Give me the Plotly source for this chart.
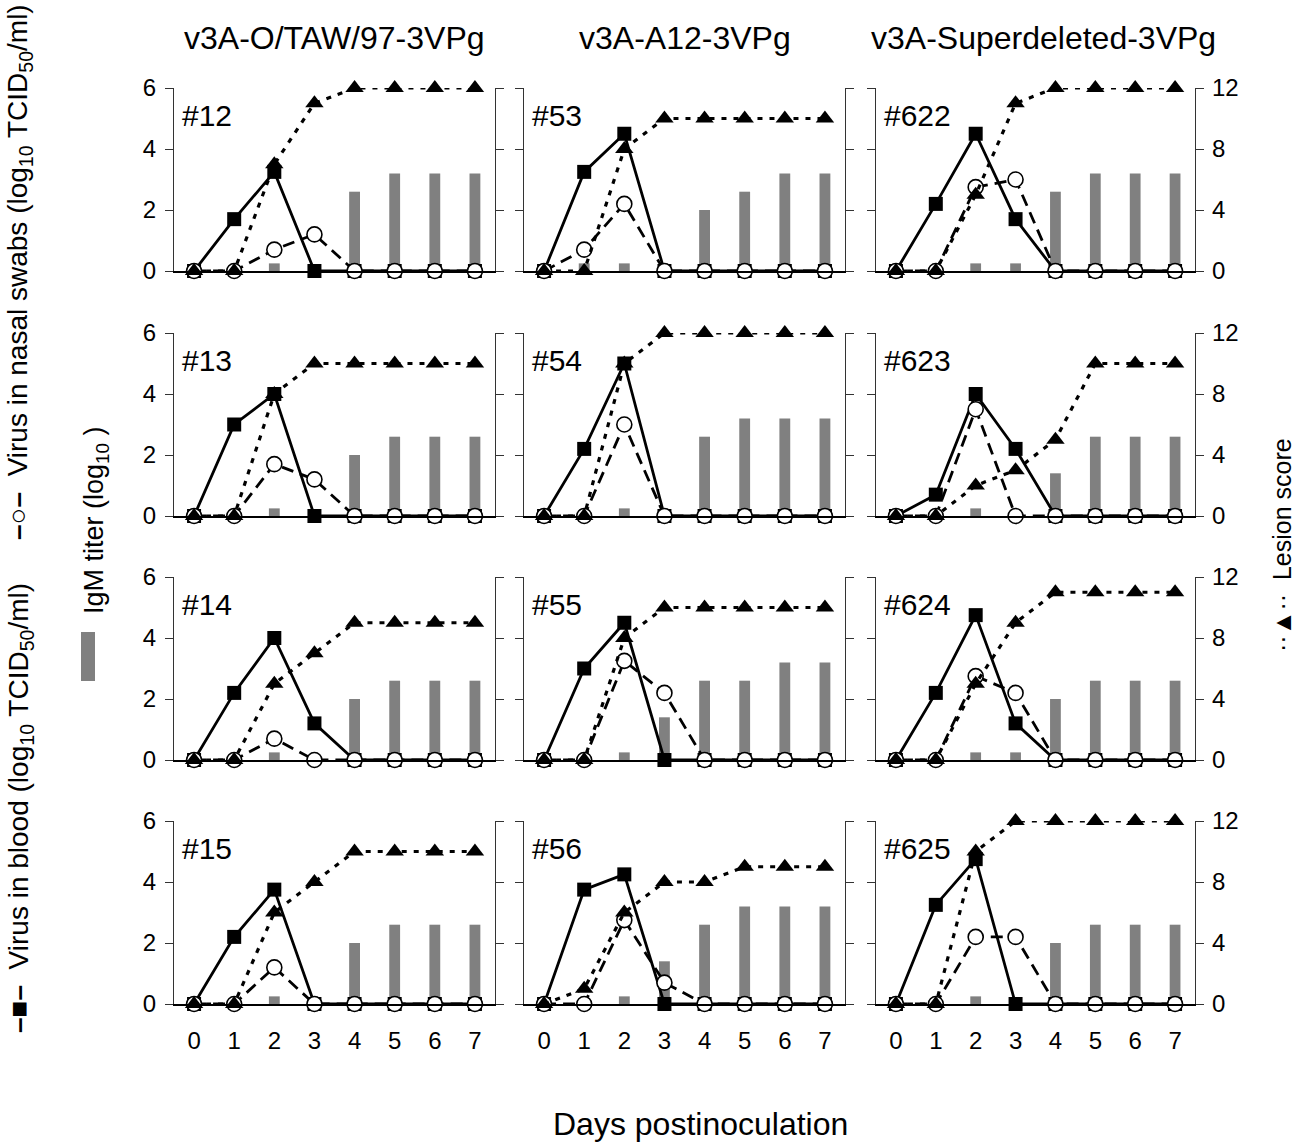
import plotly.graph_objects as go

W, H = 1302, 1144

days = [0, 1, 2, 3, 4, 5, 6, 7]
groups = ["v3A-O/TAW/97-3VPg", "v3A-A12-3VPg", "v3A-Superdeleted-3VPg"]
animals = ["#12", "#53", "#622",
           "#13", "#54", "#623",
           "#14", "#55", "#624",
           "#15", "#56", "#625"]

# Virus in blood (log10 TCID50/ml)
blood = {
    "#12":  [0, 1.7, 3.25, 0, 0, 0, 0, 0],
    "#53":  [0, 3.25, 4.5, 0, 0, 0, 0, 0],
    "#622": [0, 2.2, 4.5, 1.7, 0, 0, 0, 0],
    "#13":  [0, 3.0, 4.0, 0, 0, 0, 0, 0],
    "#54":  [0, 2.2, 5.0, 0, 0, 0, 0, 0],
    "#623": [0, 0.7, 4.0, 2.2, 0, 0, 0, 0],
    "#14":  [0, 2.2, 4.0, 1.2, 0, 0, 0, 0],
    "#55":  [0, 3.0, 4.5, 0, 0, 0, 0, 0],
    "#624": [0, 2.2, 4.75, 1.2, 0, 0, 0, 0],
    "#15":  [0, 2.2, 3.75, 0, 0, 0, 0, 0],
    "#56":  [0, 3.75, 4.25, 0, 0, 0, 0, 0],
    "#625": [0, 3.25, 4.75, 0, 0, 0, 0, 0],
}

# Virus in nasal swabs (log10 TCID50/ml)
nasal = {
    "#12":  [0, 0, 0.7, 1.2, 0, 0, 0, 0],
    "#53":  [0, 0.7, 2.2, 0, 0, 0, 0, 0],
    "#622": [0, 0, 2.75, 3.0, 0, 0, 0, 0],
    "#13":  [0, 0, 1.7, 1.2, 0, 0, 0, 0],
    "#54":  [0, 0, 3.0, 0, 0, 0, 0, 0],
    "#623": [0, 0, 3.5, 0, 0, 0, 0, 0],
    "#14":  [0, 0, 0.7, 0, 0, 0, 0, 0],
    "#55":  [0, 0, 3.25, 2.2, 0, 0, 0, 0],
    "#624": [0, 0, 2.75, 2.2, 0, 0, 0, 0],
    "#15":  [0, 0, 1.2, 0, 0, 0, 0, 0],
    "#56":  [0, 0, 2.75, 0.7, 0, 0, 0, 0],
    "#625": [0, 0, 2.2, 2.2, 0, 0, 0, 0],
}

# Lesion score (right axis, 0-12)
lesion = {
    "#12":  [0, 0, 7, 11, 12, 12, 12, 12],
    "#53":  [0, 0, 8, 10, 10, 10, 10, 10],
    "#622": [0, 0, 5, 11, 12, 12, 12, 12],
    "#13":  [0, 0, 8, 10, 10, 10, 10, 10],
    "#54":  [0, 0, 10, 12, 12, 12, 12, 12],
    "#623": [0, 0, 2, 3, 5, 10, 10, 10],
    "#14":  [0, 0, 5, 7, 9, 9, 9, 9],
    "#55":  [0, 0, 8, 10, 10, 10, 10, 10],
    "#624": [0, 0, 5, 9, 11, 11, 11, 11],
    "#15":  [0, 0, 6, 8, 10, 10, 10, 10],
    "#56":  [0, 1, 6, 8, 8, 9, 9, 9],
    "#625": [0, 0, 10, 12, 12, 12, 12, 12],
}

# IgM titer (log10)
igm = {
    "#12":  [0, 0, 0.25, 0, 2.6, 3.2, 3.2, 3.2],
    "#53":  [0, 0.25, 0.25, 0, 2.0, 2.6, 3.2, 3.2],
    "#622": [0, 0, 0.25, 0.25, 2.6, 3.2, 3.2, 3.2],
    "#13":  [0, 0, 0.25, 0, 2.0, 2.6, 2.6, 2.6],
    "#54":  [0, 0, 0.25, 0, 2.6, 3.2, 3.2, 3.2],
    "#623": [0, 0, 0.25, 0, 1.4, 2.6, 2.6, 2.6],
    "#14":  [0, 0, 0.25, 0, 2.0, 2.6, 2.6, 2.6],
    "#55":  [0, 0, 0.25, 1.4, 2.6, 2.6, 3.2, 3.2],
    "#624": [0, 0, 0.25, 0.25, 2.0, 2.6, 2.6, 2.6],
    "#15":  [0, 0, 0.25, 0, 2.0, 2.6, 2.6, 2.6],
    "#56":  [0, 0, 0.25, 1.4, 2.6, 3.2, 3.2, 3.2],
    "#625": [0, 0, 0.25, 0, 2.0, 2.6, 2.6, 2.6],
}

left_ticks = [0, 2, 4, 6]
right_ticks = [0, 4, 8, 12]

FONT = "Arial, Liberation Sans, sans-serif"
TICK_SIZE = 24

# panel placement in pixels
col_px = [(174, 495), (524, 845), (876, 1195)]
row_px = [(88, 271), (333, 516), (577, 760), (821, 1004)]


def xd(a, b):
    return [a / W, b / W]


def yd(top, bot):
    return [1 - bot / H, 1 - top / H]


fig = go.Figure()
layout = dict(
    template="none",
    width=W, height=H,
    margin=dict(l=0, r=0, t=0, b=0, pad=0, autoexpand=False),
    paper_bgcolor="white", plot_bgcolor="white",
    showlegend=False,
    font=dict(family=FONT, color="black"),
    annotations=[], shapes=[],
)

for k, name in enumerate(animals):
    r, c = divmod(k, 3)
    xn = f"x{k + 1}"
    ys = f"y{2 * k + 2}"
    xkey = "xaxis" if k == 0 else f"xaxis{k + 1}"
    ypkey = "yaxis" if k == 0 else f"yaxis{2 * k + 1}"
    yskey = f"yaxis{2 * k + 2}"
    yp_ref = "y" if k == 0 else f"y{2 * k + 1}"
    x_ref = "x" if k == 0 else xn

    layout[xkey] = dict(
        domain=xd(*col_px[c]), range=[-0.5, 7.5], anchor=yp_ref,
        tickvals=days, showticklabels=(r == 3), ticks="",
        ticklabelstandoff=14,
        showline=True, linecolor="black", linewidth=2,
        showgrid=False, zeroline=False, automargin=False,
        tickfont=dict(size=TICK_SIZE, family=FONT, color="black"),
        fixedrange=True,
    )
    layout[ypkey] = dict(
        domain=yd(*row_px[r]), range=[0, 6], anchor=x_ref,
        tickvals=left_ticks, showticklabels=(c == 0),
        ticks="outside", ticklen=8, tickwidth=1.2, tickcolor="#333",
        ticklabelstandoff=4,
        showline=True, linecolor="#333", linewidth=1.2,
        showgrid=False, zeroline=False, automargin=False,
        tickfont=dict(size=TICK_SIZE, family=FONT, color="black"),
        fixedrange=True,
    )
    layout[yskey] = dict(
        range=[0, 12], overlaying=yp_ref, side="right", anchor=x_ref,
        tickvals=right_ticks, showticklabels=(c == 2),
        ticks="outside", ticklen=8, tickwidth=1.2, tickcolor="#333",
        ticklabelstandoff=3,
        showline=True, linecolor="#333", linewidth=1.2,
        showgrid=False, zeroline=False, automargin=False,
        tickfont=dict(size=TICK_SIZE, family=FONT, color="black"),
        fixedrange=True,
    )

    fig.add_trace(go.Bar(
        x=days, y=igm[name], width=0.27,
        marker=dict(color="#808080", line=dict(width=0)),
        xaxis=x_ref, yaxis=yp_ref, hoverinfo="skip",
    ))
    fig.add_trace(go.Scatter(
        x=days, y=blood[name], mode="lines+markers",
        line=dict(color="black", width=2.8),
        marker=dict(symbol="square", size=14, color="black"),
        xaxis=x_ref, yaxis=yp_ref, cliponaxis=False,
    ))
    fig.add_trace(go.Scatter(
        x=days, y=nasal[name], mode="lines+markers",
        line=dict(color="black", width=2.8, dash="12px,7px"),
        marker=dict(symbol="circle", size=15, color="white",
                    line=dict(color="black", width=1.6)),
        xaxis=x_ref, yaxis=yp_ref, cliponaxis=False,
    ))
    fig.add_trace(go.Scatter(
        x=days, y=lesion[name], mode="lines+markers",
        line=dict(color="black", width=3.2, dash="5px,7px"),
        marker=dict(symbol="triangle-up", size=16, color="black"),
        xaxis=x_ref, yaxis=ys, cliponaxis=False,
    ))

    # panel label
    layout["annotations"].append(dict(
        text=name, x=(col_px[c][0] + 6) / W, y=1 - (row_px[r][0] + 27) / H,
        xref="paper", yref="paper", showarrow=False,
        xanchor="left", yanchor="middle",
        font=dict(size=30, family=FONT, color="black"),
    ))


def ann(text, xp, yp, size, angle=0, xanchor="center"):
    layout["annotations"].append(dict(
        text=text, x=xp / W, y=1 - yp / H, xref="paper", yref="paper",
        showarrow=False, textangle=angle, xanchor=xanchor, yanchor="middle",
        font=dict(size=size, family=FONT, color="black"),
    ))


col_titles_x = [335, 685, 1043]
for g, xp in zip(groups, col_titles_x):
    ann(g, xp, 38, 32)

ann("Days postinoculation", 700, 1124, 32)
ann("<b>–</b>○<b>–</b>  Virus in nasal swabs (log<sub>10</sub> TCID<sub>50</sub>/ml)",
    20, 272, 28, angle=-90)
ann("<b>–■–</b>  Virus in blood (log<sub>10</sub> TCID<sub>50</sub>/ml)",
    20, 808, 28, angle=-90)
ann("IgM titer (log<sub>10</sub> )", 96, 520, 27, angle=-90)
ann("··▲··  Lesion score", 1282, 545, 25, angle=-90)

layout["shapes"].append(dict(
    type="rect", xref="paper", yref="paper",
    x0=81 / W, x1=95 / W, y0=1 - 681 / H, y1=1 - 632 / H,
    fillcolor="#808080", line=dict(width=0),
))

fig.update_layout(**layout)
fig.write_html(
    "out.html",
    config={"displayModeBar": False},
    post_script="document.body.style.margin='0';document.body.style.padding='0';"
                "document.documentElement.style.overflow='hidden';",
)
